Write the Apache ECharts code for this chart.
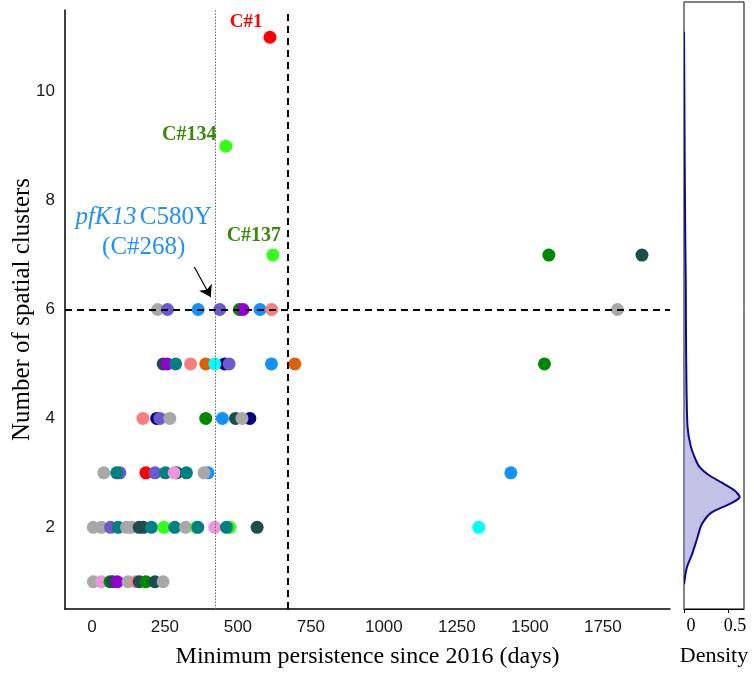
<!DOCTYPE html>
<html><head><meta charset="utf-8">
<script src="https://cdn.jsdelivr.net/npm/echarts@6/dist/echarts.min.js"></script>
<style>html,body{margin:0;padding:0;background:#fff}#c{width:754px;height:681px}</style>
</head><body><div id="c"></div><script>
// ---- data ----
const xTicks = [0, 250, 500, 750, 1000, 1250, 1500, 1750];
const yTicks = [2, 4, 6, 8, 10];
const densityTicks = [0, 0.5];

const row1Days   = [5, 33, 62, 71, 87, 124, 151, 162, 185, 216, 244];
const row1Groups = ['gray','violet','green','darkslate','purple','gray','salmon','darkslate','green','darkslate','gray'];
const row2Days   = [5, 33, 64, 90, 119, 136, 162, 176, 204, 247, 284, 321, 358, 363, 421, 473, 461, 566, 1325];
const row2Groups = ['gray','gray','slateblue','teal','gray','gray','darkslate','darkslate','teal','lime','teal','gray','lime','teal','violet','lime','teal','darkslate','cyan'];
const row3Days   = [41, 96, 85, 185, 216, 252, 290, 282, 324, 398, 384, 1435];
const row3Groups = ['gray','slateblue','teal','red','slateblue','teal','darkslate','violet','teal','blue','gray','blue'];
const row4Days   = [175, 222, 233, 267, 390, 447, 492, 541, 514];
const row4Groups = ['salmon','navy','slateblue','gray','green','blue','darkslate','navy','gray'];
const row5Days   = [244, 258, 287, 338, 390, 455, 421, 470, 615, 695, 1550];
const row5Groups = ['darkslate','purple','teal','salmon','orange','navy','cyan','slateblue','blue','orange','green'];
const row6Days   = [225, 259, 364, 438, 505, 518, 576, 616, 1800];
const row6Groups = ['gray','slateblue','blue','slateblue','green','purple','blue','salmon','gray'];
const row7Days   = [620, 1565, 1884];
const row7Groups = ['lime','green','darkslate'];
const row9Days   = [459];
const row9Groups = ['lime'];
const row11Days  = [610];
const row11Groups = ['red'];

const thresholdDays = 670;      // dashed vertical
const medianDays = 424;         // dotted vertical
const thresholdClusters = 6;    // dashed horizontal

const densityY = [0.95, 1.25, 1.5, 1.8, 2.05, 2.27, 2.43, 2.55, 2.68, 2.82, 2.96, 3.1, 3.25, 3.5, 3.85, 4.6, 5.7, 6.5, 7.2, 8.7, 10.0, 11.1];
const densityX = [0.0, 0.03, 0.09, 0.15, 0.2, 0.31, 0.52, 0.63, 0.57, 0.43, 0.28, 0.18, 0.13, 0.075, 0.04, 0.028, 0.022, 0.02, 0.015, 0.008, 0.004, 0.0];

// ---- styling ----
const palette = {
  gray:'#a8a8a8', slateblue:'#6a5acd', blue:'#1192ff', green:'#008800', purple:'#9400d3',
  salmon:'#f77f7f', darkslate:'#1f4c4c', teal:'#008080', red:'#ff0000', orange:'#e0600a',
  cyan:'#00ffff', navy:'#00007f', lime:'#33ff1a', violet:'#ee95dd'
};
const serif = "'Liberation Serif','Times New Roman',serif";
const sans = "'Liberation Sans',Arial,sans-serif";

const rows = [
  [1, row1Days, row1Groups], [2, row2Days, row2Groups], [3, row3Days, row3Groups],
  [4, row4Days, row4Groups], [5, row5Days, row5Groups], [6, row6Days, row6Groups],
  [7, row7Days, row7Groups], [9, row9Days, row9Groups], [11, row11Days, row11Groups]
];
const points = [];
rows.forEach(([y, xs, gs]) => xs.forEach((x, i) => points.push({value:[x, y], itemStyle:{color: palette[gs[i]], opacity:1}})));

function addLabel(x, y, label) {
  const p = points.find(d => d.value[0] === x && d.value[1] === y);
  if (p) p.label = label;
}
addLabel(row11Days[0], 11, {show:true, formatter:'C#1', position:'left', distance:1, offset:[0,-15],
  color:'#ff0000', fontFamily:serif, fontWeight:'bold', fontSize:19, opacity:1});
addLabel(row9Days[0], 9, {show:true, formatter:'C#134', position:'left', distance:3, offset:[0,-11],
  color:'#3a8a08', fontFamily:serif, fontWeight:'bold', fontSize:20, opacity:1});
addLabel(row7Days[0], 7, {show:true, formatter:'C#137', position:'top', distance:3, offset:[-19,0],
  color:'#3a8a08', fontFamily:serif, fontWeight:'bold', fontSize:20, opacity:1});
addLabel(row6Days[3], 6, {show:true, formatter:'{it|pfK13} {n|C580Y}\n{n|(C#268)}', position:'inside',
  offset:[-76,-77], align:'center', color:'#1e90ff', opacity:1,
  rich:{it:{fontStyle:'italic', fontFamily:serif, fontSize:25, color:'#1e90ff', lineHeight:30},
        n:{fontFamily:serif, fontSize:25, color:'#1e90ff', lineHeight:30}}});

const chart = echarts.init(document.getElementById('c'), null, {renderer:'canvas'});
chart.setOption({
  animation:false,
  backgroundColor:'#fff',
  grid:[
    {left:65, top:10, width:605, bottom:72, containLabel:false, outerBoundsMode:'none'},
    {left:684, top:2, right:10, bottom:72, show:true, borderColor:'#000', borderWidth:1, backgroundColor:'transparent',
     containLabel:false, outerBoundsMode:'none'}
  ],
  xAxis:[
    {gridIndex:0, type:'value', min:-92, max:1980,
     axisLine:{show:true, onZero:false, lineStyle:{color:'#000', width:1.5}}, axisTick:{show:false}, splitLine:{show:false},
     axisLabel:{customValues:xTicks, formatter:v => String(v), color:'#1a1a1a', fontFamily:sans, fontSize:17, margin:10},
     name:'Minimum persistence since 2016 (days)', nameLocation:'middle', nameGap:36, nameMoveOverlap:false,
     nameTextStyle:{fontFamily:serif, fontSize:24, color:'#000'}},
    {gridIndex:1, type:'value', min:0, max:0.68,
     axisLine:{show:true, onZero:false, lineStyle:{color:'#000', width:1}},
     axisTick:{show:true, customValues:densityTicks, length:4, inside:false, lineStyle:{color:'#000'}},
     splitLine:{show:false},
     axisLabel:{customValues:densityTicks, formatter:v => String(v), color:'#000', fontFamily:serif, fontSize:18, margin:8, padding:[0,0,0,14]},
     name:'Density', nameLocation:'middle', nameGap:36, nameMoveOverlap:false,
     nameTextStyle:{fontFamily:serif, fontSize:22, color:'#000'}}
  ],
  yAxis:[
    {gridIndex:0, type:'value', min:0.5, max:11.5,
     axisLine:{show:true, onZero:false, lineStyle:{color:'#000', width:1.5}}, axisTick:{show:false}, splitLine:{show:false},
     axisLabel:{customValues:yTicks, formatter:v => String(v), color:'#1a1a1a', fontFamily:sans, fontSize:17, margin:10},
     name:'Number of spatial clusters', nameLocation:'middle', nameGap:30, nameMoveOverlap:false,
     nameTextStyle:{fontFamily:serif, fontSize:25, color:'#000'}},
    {gridIndex:1, type:'value', min:0.5, max:11.5 + 8/54.45,
     axisLine:{show:true, onZero:false, lineStyle:{color:'#888', width:1.5}}, axisTick:{show:false},
     axisLabel:{show:false}, splitLine:{show:false}}
  ],
  series:[
    {type:'scatter', xAxisIndex:0, yAxisIndex:0, symbol:'circle', symbolSize:13, data:points,
     itemStyle:{opacity:1}, emphasis:{disabled:true},
     markLine:{silent:true, symbol:'none', label:{show:false}, animation:false,
       data:[
         {xAxis:thresholdDays, lineStyle:{color:'#000', width:2, type:[7,5], opacity:1}},
         {yAxis:thresholdClusters, lineStyle:{color:'#000', width:2, type:[7,5], opacity:1}},
         {xAxis:medianDays, lineStyle:{color:'#666', width:1, type:[1.5,1.5], opacity:1}},
         [{coord:[351, 6.78], symbol:'none'}, {coord:[407, 6.23], symbol:'arrow', symbolSize:11,
           lineStyle:{color:'#000', width:1.2, type:'solid', opacity:1}}]
       ]}},
    {type:'custom', xAxisIndex:1, yAxisIndex:1, clip:true, data:[[0,0]],
     renderItem:function(params, api){
       const pts = densityY.map((y,i) => api.coord([densityX[i], y]));
       return {type:'group', children:[
         {type:'polygon', shape:{points:pts, smooth:0.25}, style:{fill:'rgba(120,120,200,0.45)', stroke:null}},
         {type:'polyline', shape:{points:pts, smooth:0.25}, style:{stroke:'#0b0b8c', lineWidth:2, fill:null}}
       ]};
     }}
  ]
});
</script></body></html>
